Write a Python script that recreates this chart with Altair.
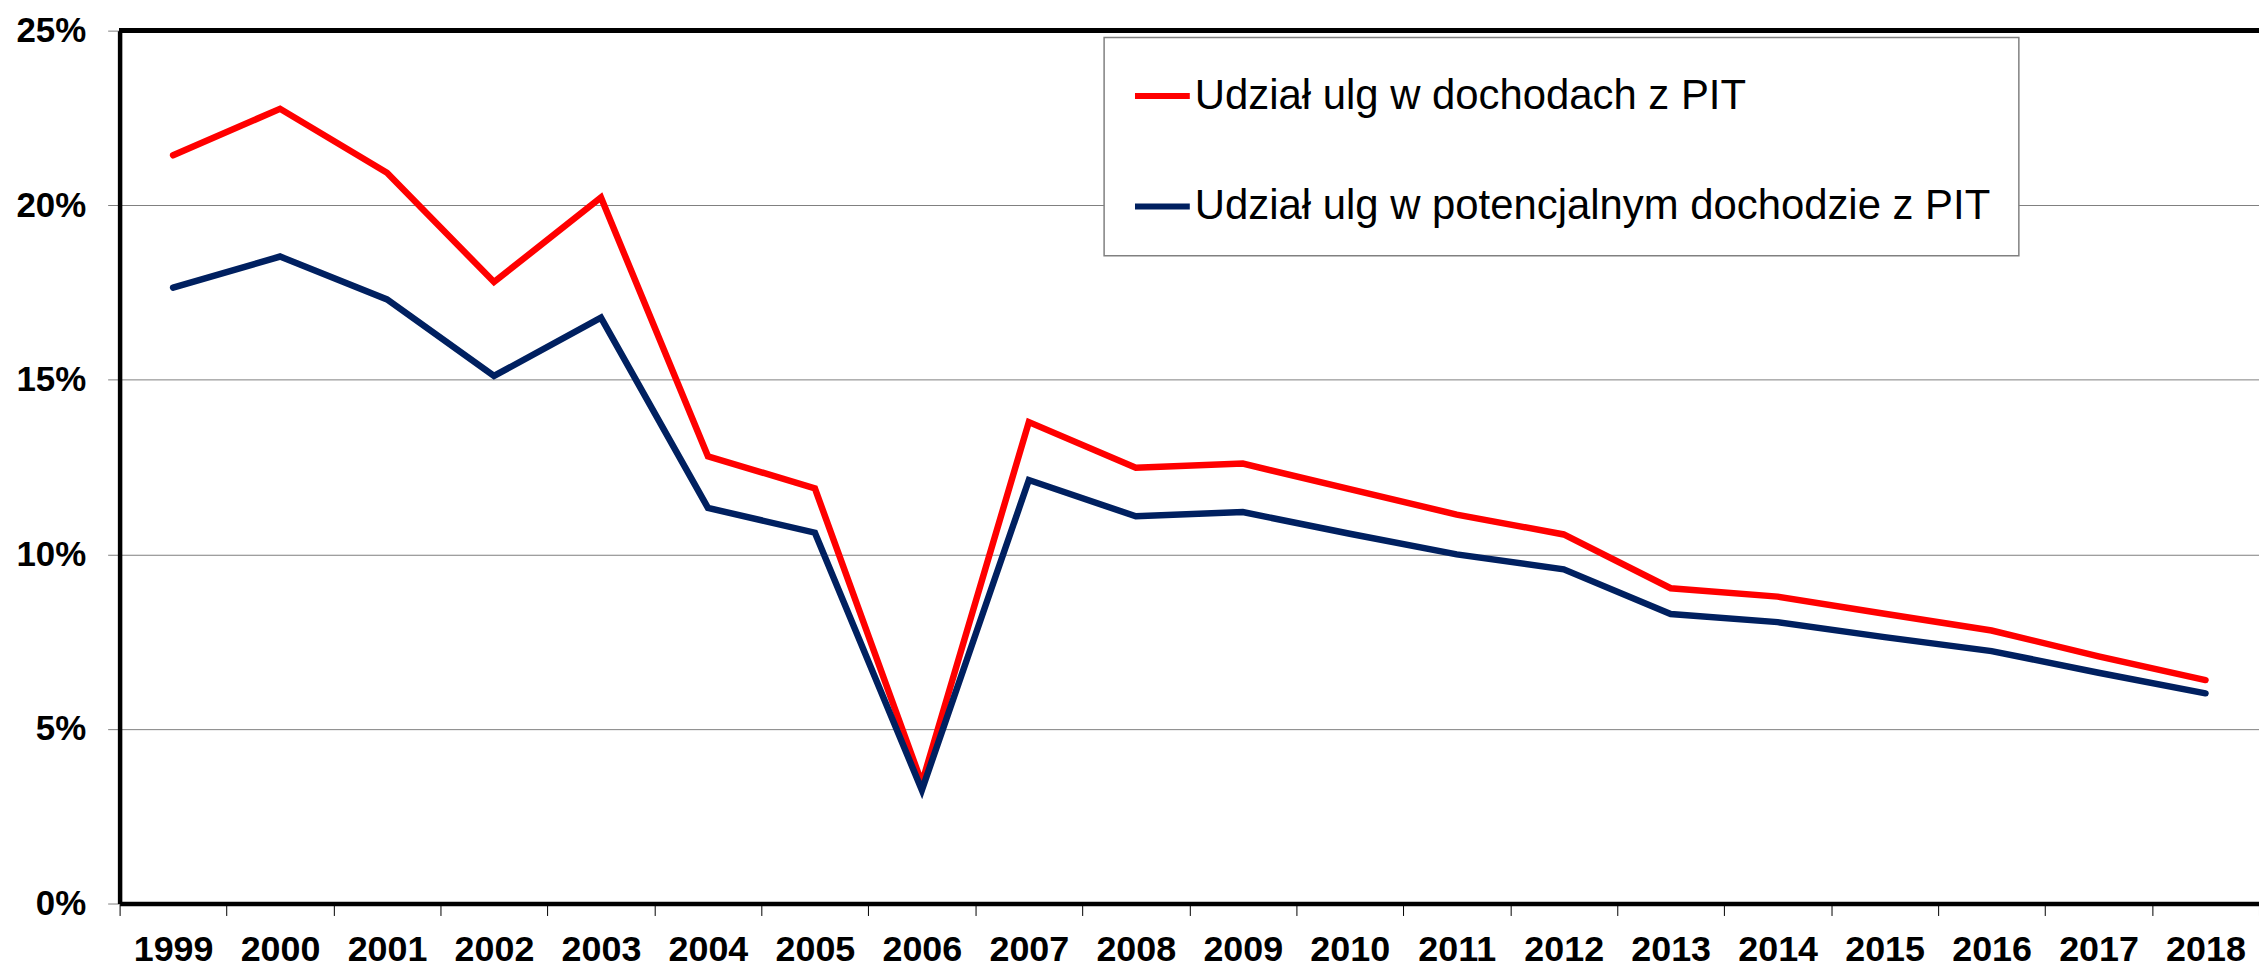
import altair as alt
import pandas as pd

years = [str(y) for y in range(1999, 2019)]
series_names = ["Udział ulg w dochodach z PIT", "Udział ulg w potencjalnym dochodzie z PIT"]
share_of_revenue = [21.43, 22.76, 20.93, 17.80, 20.22, 12.81, 11.89, 3.45, 13.79, 12.48,
                    12.60, 11.87, 11.14, 10.57, 9.03, 8.79, 8.30, 7.82, 7.08, 6.40]
share_of_potential = [17.64, 18.53, 17.30, 15.11, 16.78, 11.33, 10.62, 3.25, 12.13, 11.09,
                      11.21, 10.59, 10.00, 9.57, 8.29, 8.06, 7.63, 7.23, 6.61, 6.02]
y_ticks = [0, 5, 10, 15, 20, 25]
colors = ["#FF0000", "#002060"]

df = pd.DataFrame({
    "year": years + years,
    "value": share_of_revenue + share_of_potential,
    "series": [series_names[0]] * len(years) + [series_names[1]] * len(years),
})

FONT = "Liberation Sans"

lines = alt.Chart(df).mark_line(strokeWidth=6.5, strokeCap="round").encode(
    x=alt.X("year:O", sort=years,
            scale=alt.Scale(type="band", paddingInner=0, paddingOuter=0),
            axis=alt.Axis(title=None, labelAngle=0, tickBand="extent", grid=False,
                          domainColor="black", domainWidth=4.5,
                          tickColor="black", tickWidth=1, tickSize=12,
                          labelPadding=17, labelFont=FONT, labelFontSize=36,
                          labelFontWeight="bold", labelColor="black")),
    y=alt.Y("value:Q",
            scale=alt.Scale(domain=[0, 25], nice=False, zero=True),
            axis=alt.Axis(title=None, values=y_ticks, labelExpr="datum.value + '%'",
                          grid=True, gridColor="#808080", gridWidth=1,
                          domainColor="black", domainWidth=4.5,
                          tickColor="#808080", tickWidth=1, tickSize=12,
                          labelPadding=22, labelFont=FONT, labelFontSize=35,
                          labelFontWeight="bold", labelColor="black")),
    color=alt.Color("series:N",
                    scale=alt.Scale(domain=series_names, range=colors),
                    legend=alt.Legend(title=None, orient="none", legendX=988, legendY=7,
                                      direction="vertical", symbolType="stroke",
                                      symbolSize=3025, symbolStrokeWidth=6,
                                      labelFont=FONT, labelFontSize=42, labelColor="black",
                                      labelOffset=2, labelLimit=1200, rowPadding=59,
                                      padding=28, fillColor="white",
                                      strokeColor="#808080")),
)

top_border = alt.Chart(df).mark_rule(color="black", strokeWidth=4.5).encode(
    y=alt.datum(25)
)

chart = alt.layer(lines, top_border).properties(
    width=2147, height=876,
    padding={"left": 112, "top": 21, "right": 0, "bottom": 65},
    autosize=alt.AutoSizeParams(type="none"),
).configure_view(stroke=None).configure_legend(strokeWidth=1.5)

chart.save("out.html", embed_options={"renderer": "svg", "actions": False})
